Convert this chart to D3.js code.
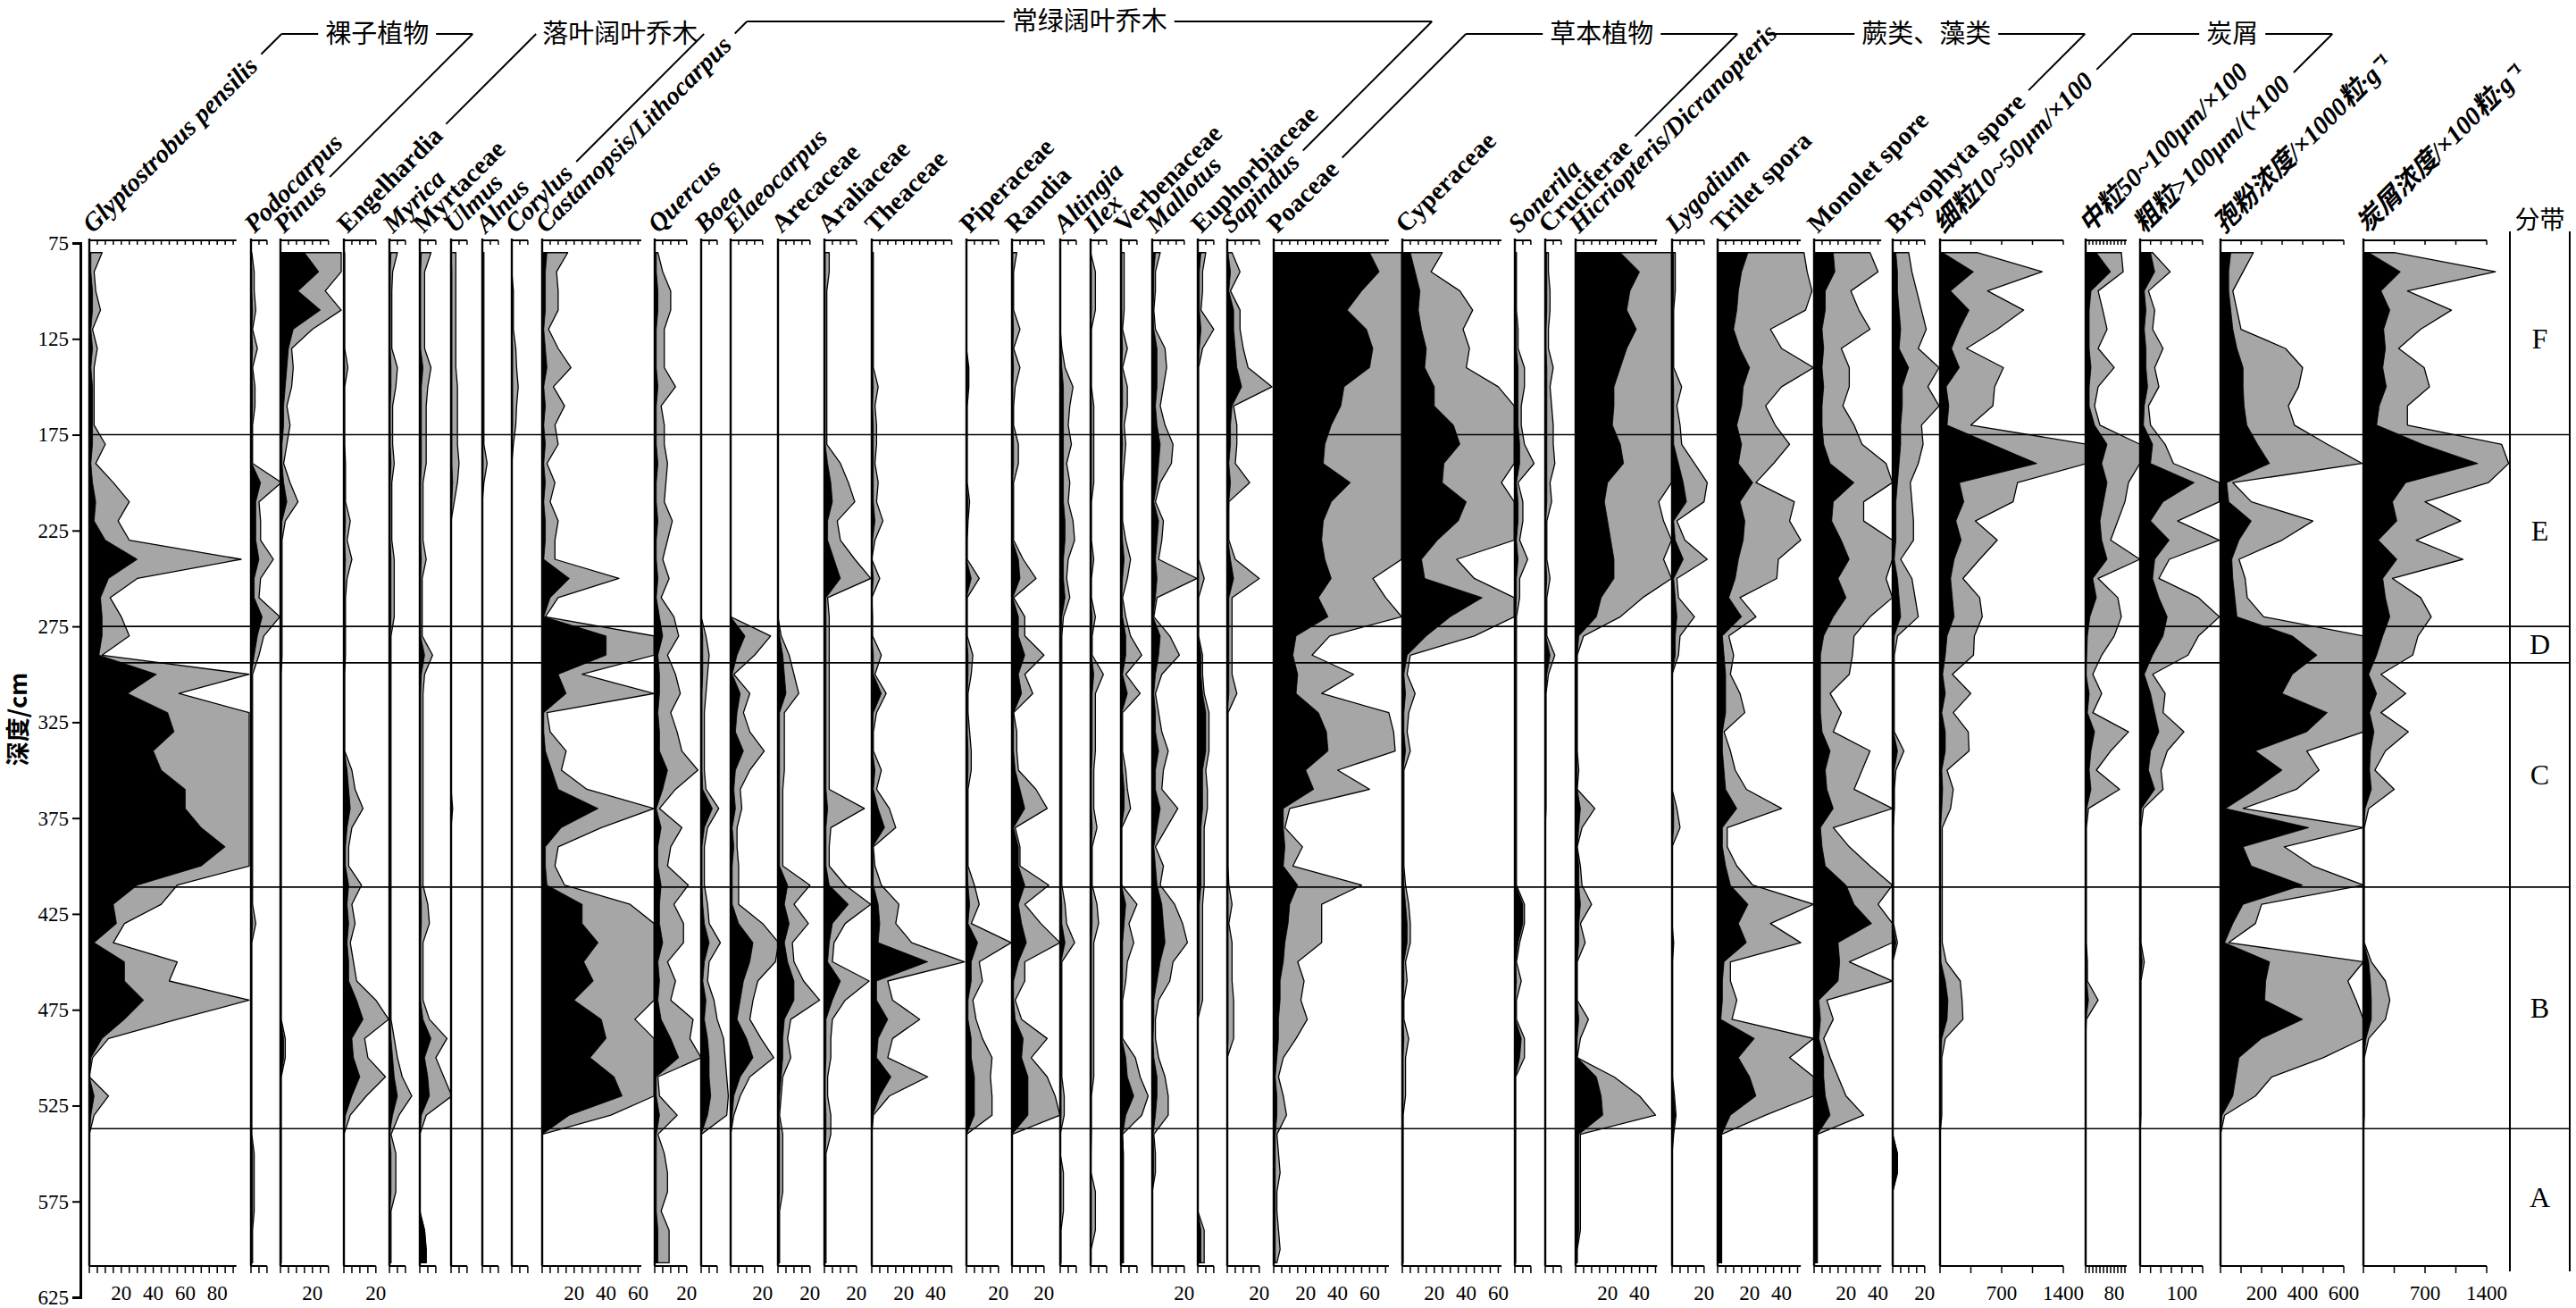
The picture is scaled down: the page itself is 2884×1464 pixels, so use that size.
<!DOCTYPE html>
<html>
<head>
<meta charset="utf-8">
<script src="https://cdn.jsdelivr.net/npm/d3@7"></script>
<style>
  body { margin: 0; background: #fff; }
  svg text { fill: #000; }
</style>
</head>
<body>
<div id="chart"></div>
<script>
// sample depths (cm)
const depths = [80,90,100,110,120,130,140,150,160,170,180,190,200,210,220,230,240,250,260,270,280,290,300,310,320,330,340,350,360,370,380,390,400,410,420,430,440,450,460,470,480,490,500,510,520,530,540,550,560,570,580,590,600,607];

// zone boundaries and names
const zoneBounds = [175, 275, 294, 411, 537];
const zoneNames = ["F", "E", "D", "C", "B", "A"];
const depthTicks = [75,125,175,225,275,325,375,425,475,525,575,625];

// percentages (black) and exaggerated curves (grey)
const glyptostrobus = [1,1,2,2,1,2,1,2,2,2, 2,1,2,4,3,10,30,12,7,8, 8,6,42,24,49,53,40,45,60,60, 70,85,70,30,15,17,3,22,22,34, 22,8,1,0,3,1,0,0,0,0, 0,0,0,0];
const glyptostrobusEx = [8,3,4,7,2,5,3,3,3,3, 10,4,15,25,18,25,95,30,13,20, 25,8,100,56,100,100,100,100,100,100, 100,100,100,55,45,22,15,55,50,100, 55,12,2,0,12,3,0,0,0,0, 0,0,0,0];
const podocarpus = [0,0.5,0.5,1,0.5,1,0.5,1,1,0.5, 0.5,0.5,6,3,3,3,5,2,2,7, 4,2,0.3,0.3,0.3,0.3,0.3,0.3,0.3,0.3, 0.3,0.3,0.3,0.3,0.3,1,0.2,0.2,0.2,0.2, 0.2,0.2,0.2,0.2,0.2,0.2,0.2,1,1,1, 1,0.5,0.5,0.5];
const podocarpusEx = [0.5,2,2,3,1,4,1,2.5,2.5,1, 1,1,19,5,6,6,14,6,5,18, 8,5,1,1,1,1,1,1,1,1, 1,1,1,1,1,3,0.5,0.5,0.5,0.5, 0.5,0.5,0.5,0.5,0.5,0.5,0.5,2,2,2, 2,1,1,1];
const pinus = [15,24,11,25,8,5,4,3,2,2, 1,1,2,4,1,0.5,0.5,0.5,0.5,0.5, 0.5,0.5,0.3,0.3,0.3,0.3,0.3,0.3,0.3,0.3, 0.3,0.3,0.3,0.3,0.3,0.3,0.3,0.3,0.3,0.3, 0.3,2,2,0.3,0.3,0.3,0.3,0.3,0.3,0.3, 0.3,0.3,0.3,0.3];
const pinusEx = [38,38,28,38,20,7,8,7,4,6, 4,2,6,11,3,1,1,1,1,1, 1,1,0.5,0.5,0.5,0.5,0.5,0.5,0.5,0.5, 0.5,0.5,0.5,0.5,0.5,0.5,0.5,0.5,0.5,0.5, 0.5,3,3,0.5,0.5,0.5,0.5,0.5,0.5,0.5, 0.5,0.5,0.5,0.5];
const engelhardia = [0,0,0,0,0,0,0.5,0,0,0, 0,0.5,0.5,0.5,1,0.5,1,0.5,0.5,0.5, 0.5,0.5,0.3,0.3,0.3,0.3,0.3,2,3,4, 2,1,1,3,2,3,2,3,3,8, 12,5,6,10,5,1,0,0,0,0, 0,0,0,0];
const engelhardiaEx = [0.5,0.5,0.5,0.5,0.5,0.5,2.5,0.5,0.5,0.5, 0.5,1,1,1,4,2,5,2,1,1, 1,1,0.5,0.5,0.5,0.5,0.5,5,7,12, 5,3,3,11,5,7,4,6,8,20, 28,13,15,26,14,4,0,0,0,0, 0,0,0,0];
const myrica = [1,0.5,0.5,0.5,0.5,0.5,1,1,0.5,0.5, 0.5,1,0.5,0.5,0.5,0.5,1,1,1,1, 0.5,0.5,0.5,0.5,0.5,0.5,0.5,0.5,0.5,0.5, 0.5,0.5,0.5,0.5,0.5,0.5,0.5,0.5,0.5,0.5, 0.5,1,2,3,5,2,0,1,1,1, 0.3,0.3,0.3,0.3];
const myricaEx = [5,2,1.5,1.5,1.5,1.5,5,4,2,2, 2,3,1.5,1.5,1.5,1.5,3,3,3,3, 1,1,1,1,1,1,1,1,1,1, 1,1,1,1,1,1,1,1,1,1, 1,3,5,8,14,6,1,4,4,4, 1,1,1,1];
const myrtaceae = [1,0.5,0.5,0.5,0.5,0.5,2,1,1,1, 1,1,0.5,0.5,0.5,0.5,1,0.5,0.5,0.5, 0.5,3,1,0.5,0.5,0.5,0.5,0.5,0.5,0.5, 0.5,0.5,0.5,0.5,1,1,0.5,0.5,0.5,0.5, 2,7,3,5,6,1,0,0,0,0, 0,3,4,4];
const myrtaceaeEx = [7,3,3,3,3,3,7,5,4,4, 4,4,2,2,2,2,4,1.5,1.5,1.5, 1.5,8,3,2,2,2,2,2,2,2, 2,2,2,2,5,6,2,2,2,2, 6,17,10,15,20,4,0,0,0,0, 0,3,4,4];
const ulmus = [0,0.5,0.5,0.5,0.5,0.5,0.5,0.5,0.5,0.5, 0.5,0.5,1,0.5,0,0,0,0,0,0, 0,0,0,0,0,0,0,0,0,0, 0,0,0,0,0,0,0,0,0,0, 0,0,0,0,0,0,0,0,0,0, 0,0,0,0];
const ulmusEx = [3,3,3,3,3,3,3,4,4,4, 4,5,4,2,0,0,0,0,0,0, 0,0,0,0,0,0,0,0,0,1, 0,0,0,0,0,0,0,0,0,0, 0,0,0,0,0,0,0,0,0,0, 0,0,0,0];
const alnus = [0.3,0.3,0.3,0.3,0.3,0.3,0.3,0.3,0.3,0.3, 0.3,0.5,0.3,0,0,0,0,0,0,0, 0,0,0,0,0,0,0,0,0,0, 0,0,0,0,0,0,0,0,0,0, 0,0,0,0,0,0,0,0,0,0, 0,0,0,0];
const alnusEx = [1,1,1,1,1,1,1,1,1,1, 1,3,1,0,0,0,0,0,0,0, 0,0,0,0,0,0,0,0,0,0, 0,0,0,0,0,0,0,0,0,0, 0,0,0,0,0,0,0,0,0,0, 0,0,0,0];
const corylus = [0,0,0,0,0,0.5,0.5,0.5,0.5,0.5, 0,0,0,0,0,0,0,0,0,0, 0,0,0,0,0,0,0,0,0,0, 0,0,0,0,0,0,0,0,0,0, 0,0,0,0,0,0,0,0,0,0, 0,0,0,0];
const corylusEx = [0,0,1,1,1,2.5,3,4,3,2.5, 1,0,0,0,0,0,0,0,0,0, 0,0,0,0,0,0,0,0,0,0, 0,0,0,0,0,0,0,0,0,0, 0,0,0,0,0,0,0,0,0,0, 0,0,0,0];
const castanopsis = [3,2,2,2,1,2,3,1,2,1, 2,1,2,1,2,2,1,17,5,1, 40,40,10,15,1,1,2,6,10,35, 12,2,2,3,25,25,35,26,32,20, 37,40,30,45,50,17,0,0,0,0, 0,0,0,0];
const castanopsisEx = [16,9,10,10,4,10,18,7,14,8, 10,3,8,5,10,8,8,48,10,2, 70,70,25,70,3,5,15,12,28,70, 37,10,8,14,55,70,70,70,70,70, 58,70,70,70,70,43,0,0,0,0, 0,0,0,0];
const quercus = [1,1,2,2,1,1,1,2,1,1, 1,2,1,1,2,1,1,2,1,3, 5,2,3,3,2,3,3,8,5,1, 4,2,2,4,3,3,5,2,3,2, 4,10,15,1,1,3,1,1,1,1, 1,2,2,2];
const quercusEx = [2,5,10,10,6,6,6,13,4,6, 6,8,7,6,11,8,5,9,4,12, 15,8,13,16,10,14,17,27,13,3, 17,10,8,21,12,18,18,8,13,10, 24,22,29,2,3,14,2,6,8,8, 4,9,9,9];
const boea = [0,0,0,0,0,0,0,0,0,0, 0,0,0,0,0,0,0,0,0,0, 1,1,1,0.5,0.5,0.5,0.5,0.5,1,7, 2,0.5,0.5,0.5,1,2,5,2,1,3, 2,4,5,5,6,4,0,0,0,0, 0,0,0,0];
const boeaEx = [0,0,0,0,0,0,0,0,0,0, 0,0,0,0,0,0,0,0,0,0, 3,5,4,3,2,2,2,2,3,11, 4,2,2,2,4,5,12,5,4,8, 10,14,15,16,17,16,0,0,0,0, 0,0,0,0];
const elaeocarpus = [0,0,0,0,0,0,0,0,0,0, 0,0,0,0,0,0,0,0,0,0, 9,4,1,6,4,3,8,3,2,3, 1,2,1,1,1,5,14,12,8,6, 4,10,14,6,2,1,0,0,0,0, 0,0,0,0];
const elaeocarpusEx = [0,0,0,0,0,0,0,0,0,0, 0,0,0,0,0,0,0,0,0,0, 25,15,2,12,8,12,21,12,6,7, 4,4,5,5,5,20,30,28,17,14, 12,19,27,12,6,2,0,0,0,0, 0,0,0,0];
const arecaceae = [0,0,0,0,0,0,0,0,0,0, 0,0,0,0,0,0,0,0,0,0, 1,3,4,5,1,1,1,1,1,1, 1,1,1,6,4,7,4,6,10,10, 4,3,3,2,1,0.5,1,1,1,1, 0.5,0.5,0.5,0.5];
const arecaceaeEx = [0,0,0,0,0,0,0,0,0,0, 0,0,0,0,0,0,0,0,0,0, 2,7,10,13,4,4,4,4,3,3, 3,3,3,20,10,19,9,10,16,26, 8,6,8,3,2,1,3,3,3,3, 1,1,1,1];
const araliaceae = [0.5,0.5,0.5,0.5,0.5,0.5,0.5,0.5,0.5,0.5, 0.5,2,4,5,2,2,6,10,1,1, 1,1,1,1,1,1,1,1,1,2, 1,1,1,3,15,5,3,2,10,5, 1,1,1,0.5,0.5,1,1,0.5,0.5,0.5, 0.5,0.5,0.5,0.5];
const araliaceaeEx = [3,3,1.5,1.5,1.5,1.5,1.5,1.5,1.5,1.5, 1.5,10,15,19,8,10,19,29,2,3, 3,3,3,3,3,3,3,3,3,25, 4,3,3,13,29,13,6,5,28,13, 5,4,4,2,2,4,4,1,1,1, 1,1,1,1];
const theaceae = [0.5,0.5,0.5,0.5,0.5,0.5,0.5,1,0.5,1, 1,1,1,1,2,0.5,0,1,0,0, 0,1,1,6,1,0.5,0.5,2,1,4, 8,0.5,1,1,4,5,4,35,3,3, 10,4,3,12,5,0.5,0,0,0,0, 0,0,0,0];
const theaceaeEx = [1,1,1,1,1,1,1,4,2,3, 3,2,4,3,7,2,0,5,0,0.5, 0.5,6,2,9,3,1,1,6,3,11, 15,1,2,6,17,15,25,58,10,13, 30,13,10,35,11,1,0,0,0,0, 0,0,0,0];
const piperaceae = [0,0,0,0,0,0,1,1,0,0, 0,0,0,1,0.5,0,0,3,0,0, 0,1,1,0.5,0.5,0.5,1,1,0.5,0.5, 0.5,0.5,0.5,1,2,1,7,3,3,1, 1,3,3,5,5,5,0,0,0,0, 0,0,0,0];
const piperaceaeEx = [0,0,0,0,0,0,1.5,1.5,0.5,0.5, 0.5,0.5,0.5,2,1,0.5,0.5,8,0.5,0.5, 0.5,4,3,1,1,2,3,3,1,1, 1,1,1,5,8,3,28,8,10,4, 6,10,16,15,16,16,0,0,0,0, 0,0,0,0];
const randia = [0.5,0.5,0.5,0.5,1,0.5,1,0.5,0.5,0.5, 1,1,0.3,0.3,0.3,0.3,4,5,0.5,4, 4,8,4,6,1,1,1,2,5,8, 1,4,4,8,4,6,9,4,1,1, 2,7,6,10,10,10,0,0,0,0, 0,0,0,0];
const randiaEx = [3,1,1,1,5,1,5,2,1,1, 4,4,1,1,1,1,7,15,1,8, 8,20,8,13,1,3,3,4,15,22, 2,5,5,23,8,18,30,8,8,2, 6,22,12,22,27,30,0,0,0,0, 0,0,0,0];
const altingia = [0,0,0,0,0,0.5,1,2,2,2, 2,2,2,2,3,3,2,2,3,1, 0.5,0.3,0.3,0.3,0.3,0.3,0.3,0.3,0.3,0.3, 0.3,0.3,0.3,0.3,1,1,3,0.5,0.5,0.5, 0.5,0.5,0.5,0.5,0.5,0.5,0,0,0.5,0.5, 0.5,0,0,0];
const altingiaEx = [0,0,0,0,0,1,3,8,6,5, 7,4,6,5,8,9,5,4,6,2, 1,1,1,1,1,1,1,1,1,1, 1,1,1,1,3,4,9,1,1,1, 1,1,1,1,2.5,2.5,0,0,2,2, 2,0.5,0.5,0.5];
const ilex = [0,0.5,0.5,0.5,0,0,0,0,0.5,0.5, 0.5,0.5,0.5,0,0,0,0.5,0,0,1, 0.5,0.5,2,1,1,1,1,0.5,0.5,0.5, 1,0.5,0.5,0.5,1,1,0.5,0.5,0.5,0.5, 0.5,0.5,0.5,0.5,0,0,0,0,0,0.5, 0.5,0.5,0,0];
const ilexEx = [0,3,3,3,0.5,0.5,0.5,0.5,2,2, 2,2,2,0.5,0.5,0.5,2,0.5,0.5,3, 1,1,8,3,3,3,3,2,2,2, 4,1,1,1,4,5,2,2,2,2, 2,2,2,2,0.5,0.5,0.5,0.3,0.3,3, 3,3,0.3,0.3];
const verbenaceae = [0.5,0.5,0.5,0.5,0.5,1,0.5,1,1,0.5, 1,0.5,0.5,0.5,0.5,1,2,1,0.5,1, 3,3,1,4,0.5,0.5,0.5,1,2,2, 0.3,0.3,0.3,0.3,3,2,1,1,1,0.5, 0.5,0.5,3,4,8,3,1,1.5,1.5,1.5, 1.5,1.5,1.5,1.5];
const verbenaceaeEx = [2,2,2,2,1,4,1,4,4,2, 3,2,1,1,1,3,6,4,1,3, 6,13,3,12,1,1,1,3,4,6, 0.5,0.5,0.5,0.5,10,5,8,4,3,1, 1,1,9,12,17,13,1,1.5,1.5,1.5, 1.5,1.5,1.5,1.5];
const mallotus = [2,1,1,0.5,1,3,3,3,2,3, 5,4,3,1,4,3,2,3,2,0.5, 5,4,2,1,2,2,4,2,2,5, 3,1,2,3,6,7,8,5,3,1, 1,0.5,1,3,3,2,0.5,1,1,0, 0,0,0,0];
const mallotusEx = [5,2,2,1,2,8,9,7,5,8, 13,12,5,2,7,6,4,28,3,1, 11,17,6,2,4,6,10,7,6,16, 9,2,7,5,14,19,22,13,11,4, 2,2,4,8,10,10,1,2,2,0, 0,0,0,0];
const euphorbiaceae = [2,1,1,1,2,1,0.3,0.3,0.3,0.3, 0.3,0.3,0.3,0.3,0.3,0.3,0.3,0.5,0.3,0.3, 0.3,2,2,3,5,5,5,3,3,3, 2,2,2,2,1,1,1,1,1,1, 0,0,0,0,0,0,0,0,0,0, 0,2,2,2];
const euphorbiaceaeEx = [5,3,3,2,10,3,0.5,0.5,0.5,0.5, 0.5,0.5,0.5,0.5,0.5,0.5,0.5,4,0.5,0.5, 0.5,3,3,4,7,7,7,5,6,6, 4,4,4,4,3,3,3,3,3,3, 0,0,0,0,0,0,0,0,0,0, 0,4,4,4];
const sapindus = [0.5,2,1,4,4,5,6,9,3,2, 2,1,2,1,0.5,0.5,2,4,1,1, 1,1,1,1,0,0,0,0,0,0, 0,0,0,0.5,0.5,0.5,0.5,0.5,0.5,0.5, 0.5,0.5,0,0,0,0,0,0,0,0, 0,0,0,0];
const sapindusEx = [3,8,2,8,8,10,13,28,4,6, 6,5,14,1,1,1,5,20,3,3, 3,3,3,6,0.5,0.5,0.5,0.5,0.5,0.5, 0.5,0.5,0.5,1,3,1,3,3,3,4, 4,4,0,0,0,0,0,0,0,0, 0,0,0,0];
const poaceae = [60,66,55,46,58,62,60,44,42,36, 32,31,48,36,31,30,32,36,28,34, 14,12,15,14,28,33,34,20,25,6, 6,7,6,15,10,9,7,6,4,4, 3,3,2,1,2,2,1,1,1,1, 1,1,1,1];
const poaceaeEx = [80,80,80,80,80,80,80,80,80,80, 80,80,80,80,80,80,80,62,70,80, 35,24,50,30,72,75,76,40,60,10, 7,18,12,55,30,30,30,15,19,17, 21,14,6,3,6,8,2,3,4,2, 2,3,4,2];
const cyperaceae = [5,8,11,10,12,15,14,20,20,32, 36,26,25,40,35,22,12,14,50,30, 15,3,1,2,1,1,2,0.5,0.5,0.5, 0.5,0.5,0.5,1,2,3,3,1,1,0.5, 0.5,1,0.5,0.5,0.5,0.3,0.3,0.3,0.3,0.3, 0.3,0.3,0.3,0.3];
const cyperaceaeEx = [25,18,36,44,38,42,40,60,70,70, 70,70,62,70,70,70,34,45,70,70, 45,5,3,8,4,3,5,1,1,1, 1,1,1,2,4,5,5,2,3,1, 1,4,2,2,2,0.5,0.5,0.5,0.5,0.5, 0.5,0.5,0.5,0.5];
const sonerila = [0.5,0.5,0.5,0.5,1,1,2,2,2,2, 3,3,1,2,2,1,2,1,1,0.5, 0.3,0.3,0.3,0.3,0.3,0.3,0.3,0.3,0.3,0.3, 0.3,0.3,0.3,0.5,5,5,2,0.5,1,0.3, 0.3,4,3,0.3,0.3,0.3,0.3,0.3,0.3,0.3, 0.3,0.3,0.3,0.3];
const sonerilaEx = [1,1,1,1,2,2,6,6,4,4, 6,12,2,5,5,3,8,3,3,1, 1,1,1,1,1,1,1,1,1,1, 1,1,1,1,6,6,3,1,4,1, 1,6,6,0.5,0.5,0.5,0.5,0.5,0.5,0.5, 0.5,0.5,0.5,0.5];
const cruciferae = [1,1,1,1,0.5,0.5,1,1,1,1, 1,1,1,1,0.3,0.3,0.3,1,0.3,0.3, 0.3,3,1,0.3,0.3,0.3,0.3,0.3,0.3,0.3, 0,0,0,0,0,0,0,0,0,0, 0,0,0,0,0,0,0,0,0,0, 0,0,0,0];
const cruciferaeEx = [2,2,3,3,2,2,5,3,4,5, 5,6,3,4,1,1,1,3,1,1, 1,6,2,0.5,0.5,0.5,0.5,0.5,0.5,0.5, 0,0,0,0,0,0,0,0,0,0, 0,0,0,0,0,0,0,0,0,0, 0,0,0,0];
const hicriopteris = [28,40,34,32,38,32,28,24,24,23, 28,30,20,18,20,22,24,24,16,13, 2,1,1,1,1,1,1,1,1,3, 2,1,2,2,3,2,2,1,1,1, 2,1,1,13,16,17,2,2,2,2, 2,2,1,1];
const hicriopterisEx = [60,60,60,60,60,60,60,60,60,60, 60,60,60,52,55,60,55,60,42,28, 5,1,1,1,1,1,1,2,1,12, 4,1,3,4,10,3,6,1,1,1, 8,3,1,24,40,50,3,3,3,3, 3,3,1,1];
const lygodium = [1,1,1,0.5,0.5,0.5,0.5,1,1,1, 1,4,7,9,1,2,7,1,2,3, 2,2,0,0,0,0,0,0,0,1, 1,0,0,0,0,0,0.5,0,0,0, 0,0,0,0,1,2,0.5,0,0,0, 0,0,0,0];
const lygodiumEx = [2,2,2,1,1,1,1,6,3,5, 6,14,22,20,3,8,22,3,4,14, 5,4,0,0,0,0,0,0,0,3, 5,0,0,0,0,0,1,0.3,0.3,0.3, 0.3,0.3,0.3,0.3,1.5,2.5,1,0,0,0, 0,0,0,0];
const trilet = [19,15,13,12,10,14,20,16,15,12, 15,13,22,14,17,16,13,11,7,15, 3,4,5,5,5,3,3,4,5,12, 3,3,5,8,19,13,18,4,3,3, 2,23,13,20,24,8,2.5,2.5,2.5,2.5, 2.5,2.5,2.5,2.5];
const triletEx = [54,56,59,55,33,40,60,40,30,36, 45,35,24,48,45,52,38,37,14,24, 7,10,8,14,17,4,8,11,18,40, 6,6,12,22,60,33,52,8,8,12, 9,60,45,60,60,30,2.5,2.5,2.5,2.5, 2.5,2.5,2.5,2.5];
const monolet = [12,13,7,7,5,6,5,6,5,5, 6,10,25,12,11,17,22,15,20,12, 6,4,4,4,4,5,10,7,8,12, 4,5,7,20,25,36,15,16,15,3, 4,3,6,6,7,10,2,2,2,2, 2,2,2,2];
const monoletEx = [35,40,23,28,35,17,22,22,18,25, 30,45,49,31,31,49,49,45,49,35, 25,24,22,10,17,12,35,30,25,49, 12,22,35,49,40,49,49,22,49,8, 12,6,10,15,20,31,2,2,2,2, 2,2,2,2];
const bryophyta = [2,3,3,4,5,4,10,6,6,5, 5,4,3,2,2,2,1,3,4,5, 1,0.5,0.5,0.5,0.5,0.5,3,1,1,1, 0,0,0,0,0,0,2,0,0,0, 0,0,0,0,0,0,0,3,3,0, 0,0,0,0];
const bryophytaEx = [10,12,15,18,21,16,29,22,29,18, 19,16,11,12,13,13,5,12,14,16, 3,1,1,1,1,1,7,2,1,1, 0.5,0.5,0.5,0.5,0.5,0.5,3,0,0,0, 0,0,0,0,0,0,0,3,3,0, 0,0,0,0];
// charcoal particles (x100) and concentrations
const fineChar = [30,380,120,330,220,130,220,70,100,80, 590,1100,220,270,180,240,160,120,140,160, 80,60,30,60,20,60,60,20,30,20, 5,5,5,5,5,5,5,10,60,90, 80,20,10,10,10,10,0,0,0,0, 0,0,0,0];
const fineCharEx = [420,1160,540,950,650,300,720,620,600,350, 1670,1670,880,830,400,650,450,260,450,480, 390,380,140,350,150,320,330,80,150,120, 25,25,25,25,25,25,25,70,230,250, 260,60,20,20,20,20,0,0,0,0, 0,0,0,0];
const midChar = [30,70,15,10,10,10,15,10,10,25, 60,45,60,50,40,45,60,20,30,12, 5,3,1,10,5,25,15,10,15,3, 1,1,1,1,1,1,1,3,3,8, 1,0,0,0,0,0,0,0,0,0, 0,0,0,0];
const midCharEx = [100,105,35,48,60,35,80,35,25,40, 152,152,120,110,90,70,152,35,90,100, 80,45,20,45,20,120,70,30,95,8, 2,2,2,2,2,2,2,5,5,35, 2,0,0,0,0,0,0,0,0,0, 0,0,0,0];
const coarseChar = [25,35,10,14,10,14,14,18,10,8, 30,25,130,55,25,70,35,30,45,65, 55,30,10,25,35,45,25,20,35,3, 1,1,1,1,1,1,1,5,1,1, 1,1,1,1,1,1,0,0,0,0, 0,0,0,0];
const coarseCharEx = [30,72,20,35,30,55,35,45,20,25, 60,80,190,190,90,190,70,45,140,190, 140,115,30,60,55,105,65,50,55,8, 2,2,2,2,2,2,2,10,2,2, 2,2,2,2,2,2,0,0,0,0, 0,0,0,0];
const pollenConc = [50,40,40,50,60,80,110,110,115,128, 180,239,30,40,150,90,55,60,70,80, 350,470,350,300,520,420,170,300,170,25, 430,110,150,400,110,60,20,239,220,215, 400,200,90,75,60,8,0,0,0,0, 0,0,0,0];
const pollenConcEx = [160,110,60,80,100,316,400,380,330,360, 520,690,60,150,450,300,90,120,130,210, 696,696,696,696,696,696,420,480,370,110, 696,310,450,696,200,170,40,696,620,660, 696,696,500,250,170,20,0,0,0,0, 0,0,0,0];
const charConc = [60,420,200,300,230,250,220,260,180,150, 670,1300,480,330,380,170,380,220,250,300, 220,150,60,150,70,120,80,70,90,20, 5,5,5,5,5,5,5,60,80,90, 90,30,5,5,5,5,0,0,0,0, 0,0,0,0];
const charConcEx = [350,1500,500,1000,650,400,690,750,500,500, 1570,1650,1420,700,1105,600,1130,330,650,770, 620,560,200,480,200,510,250,130,350,60, 10,10,10,10,10,10,10,90,250,300, 250,60,10,10,10,10,0,0,0,0, 0,0,0,0];

// ---- layout ----
const W = 2884, H = 1464;
const axisTop = 269, axisBottom = 1417;
const pct = 1.79; // px per percent
const zoneLeft = 2810, zoneRight = 2877;

const panels = [
  {name: "Glyptostrobus pensilis", it: true, x: 100, max: 92, b: glyptostrobus, g: glyptostrobusEx},
  {name: "Podocarpus", it: true, x: 281, max: 10, b: podocarpus, g: podocarpusEx},
  {name: "Pinus", it: true, x: 314, max: 30, b: pinus, g: pinusEx},
  {name: "Engelhardia", it: false, x: 385, max: 20, b: engelhardia, g: engelhardiaEx},
  {name: "Myrica", it: true, x: 436, max: 10, b: myrica, g: myricaEx},
  {name: "Myrtaceae", it: false, x: 470, max: 10, b: myrtaceae, g: myrtaceaeEx},
  {name: "Ulmus", it: true, x: 505, max: 10, b: ulmus, g: ulmusEx},
  {name: "Alnus", it: true, x: 540, max: 10, b: alnus, g: alnusEx},
  {name: "Corylus", it: true, x: 573, max: 10, b: corylus, g: corylusEx},
  {name: "Castanopsis/Lithocarpus", it: true, x: 607, max: 62, b: castanopsis, g: castanopsisEx},
  {name: "Quercus", it: true, x: 733, max: 20, b: quercus, g: quercusEx},
  {name: "Boea", it: true, x: 785, max: 10, b: boea, g: boeaEx},
  {name: "Elaeocarpus", it: true, x: 818, max: 20, b: elaeocarpus, g: elaeocarpusEx},
  {name: "Arecaceae", it: false, x: 871, max: 20, b: arecaceae, g: arecaceaeEx},
  {name: "Araliaceae", it: false, x: 923, max: 20, b: araliaceae, g: araliaceaeEx},
  {name: "Theaceae", it: false, x: 976, max: 50, b: theaceae, g: theaceaeEx},
  {name: "Piperaceae", it: false, x: 1082, max: 20, b: piperaceae, g: piperaceaeEx},
  {name: "Randia", it: false, x: 1133, max: 20, b: randia, g: randiaEx},
  {name: "Altingia", it: true, x: 1187, max: 10, b: altingia, g: altingiaEx},
  {name: "Ilex", it: true, x: 1221, max: 10, b: ilex, g: ilexEx},
  {name: "Verbenaceae", it: false, x: 1255, max: 10, b: verbenaceae, g: verbenaceaeEx},
  {name: "Mallotus", it: true, x: 1290, max: 20, b: mallotus, g: mallotusEx},
  {name: "Euphorbiaceae", it: false, x: 1341, max: 10, b: euphorbiaceae, g: euphorbiaceaeEx},
  {name: "Sapindus", it: true, x: 1374, max: 20, b: sapindus, g: sapindusEx},
  {name: "Poaceae", it: false, x: 1426, max: 72, b: poaceae, g: poaceaeEx},
  {name: "Cyperaceae", it: false, x: 1570, max: 62, b: cyperaceae, g: cyperaceaeEx},
  {name: "Sonerila", it: true, x: 1696, max: 10, b: sonerila, g: sonerilaEx},
  {name: "Cruciferae", it: false, x: 1730, max: 10, b: cruciferae, g: cruciferaeEx},
  {name: "Hicriopteris/Dicranopteris", it: true, x: 1764, max: 51, b: hicriopteris, g: hicriopterisEx},
  {name: "Lygodium", it: true, x: 1872, max: 20, b: lygodium, g: lygodiumEx},
  {name: "Trilet spora", it: false, x: 1923, max: 52, b: trilet, g: triletEx},
  {name: "Monolet spore", it: false, x: 2031, max: 42, b: monolet, g: monoletEx},
  {name: "Bryophyta spore", it: false, x: 2119, max: 20, b: bryophyta, g: bryophytaEx},
  {name: "细粒10~50μm/×100", it: true, x: 2172, max: 1400, w: 138, ticks: [0,350,700,1050,1400], lab: [700,1400], b: fineChar, g: fineCharEx},
  {name: "中粒50~100μm/×100", it: true, x: 2335, max: 115, w: 46, ticks: d3.range(0, 116, 10), lab: [80], b: midChar, g: midCharEx},
  {name: "粗粒>100μm/(×100", it: true, x: 2396, max: 150, w: 70, ticks: d3.range(0, 151, 25), lab: [100], b: coarseChar, g: coarseCharEx},
  {name: "孢粉浓度/×1000粒·g⁻¹", it: true, x: 2486, max: 600, w: 138, ticks: d3.range(0, 601, 100), lab: [200,400,600], b: pollenConc, g: pollenConcEx},
  {name: "炭屑浓度/×100粒·g⁻¹", it: true, x: 2646, max: 1400, w: 138, ticks: [0,350,700,1050,1400], lab: [700,1400], b: charConc, g: charConcEx}
];

const groups = [
  {name: "裸子植物", first: 0, last: 2, y: 38},
  {name: "落叶阔叶乔木", first: 3, last: 8, y: 38},
  {name: "常绿阔叶乔木", first: 9, last: 23, y: 24},
  {name: "草本植物", first: 24, last: 27, y: 38},
  {name: "蕨类、藻类", first: 28, last: 32, y: 38},
  {name: "炭屑", first: 33, last: 35, y: 38}
];

const serif = "'Liberation Serif', 'Times New Roman', 'Noto Sans CJK SC', serif";
const cjk = "'Noto Sans CJK SC', sans-serif";

const svg = d3.select("#chart").append("svg")
  .attr("width", W).attr("height", H)
  .attr("viewBox", `0 0 ${W} ${H}`);
svg.append("rect").attr("width", W).attr("height", H).attr("fill", "#fff");

const y = d3.scaleLinear().domain([75, 625]).range([272, 1452]);

const defs = svg.append("defs");

panels.forEach((p, i) => {
  const w = p.w || p.max * pct;
  const next = i < panels.length - 1 ? panels[i + 1].x : zoneLeft;
  const x = d3.scaleLinear().domain([0, p.max]).range([p.x, p.x + w]);
  const ticks = p.ticks || d3.range(0, p.max + 0.01, 5);
  const labs = p.lab || d3.range(20, p.max + 0.01, 20);

  defs.append("clipPath").attr("id", `clip${i}`)
    .append("rect")
    .attr("x", p.x).attr("y", axisTop)
    .attr("width", next - p.x - 1).attr("height", axisBottom - axisTop);

  const g = svg.append("g");
  const body = g.append("g").attr("clip-path", `url(#clip${i})`);

  const grey = depths.map((d, k) => ({d, v: p.g[k] || 0}));
  const black = depths.map((d, k) => ({d, v: p.b[k] || 0}));
  const area = d3.area()
    .y(d => y(d.d))
    .x0(p.x)
    .x1(d => x(d.v));

  body.append("path")
    .datum(grey)
    .attr("d", area)
    .attr("fill", "#a6a6a6")
    .attr("stroke", "#000")
    .attr("stroke-width", 1.3)
    .attr("stroke-linejoin", "round");
  body.append("path")
    .datum(black)
    .attr("d", area)
    .attr("fill", "#000")
    .attr("stroke", "#000")
    .attr("stroke-width", 0.8);

  // panel axis
  g.append("line")
    .attr("x1", p.x).attr("x2", p.x)
    .attr("y1", axisTop - 2).attr("y2", axisBottom)
    .attr("stroke", "#000").attr("stroke-width", 2.4);

  [axisTop, axisBottom].forEach(ay => {
    g.append("line")
      .attr("x1", p.x).attr("x2", p.x + w)
      .attr("y1", ay).attr("y2", ay)
      .attr("stroke", "#000").attr("stroke-width", 2);
    g.selectAll(null).data(ticks).enter().append("line")
      .attr("x1", d => x(d)).attr("x2", d => x(d))
      .attr("y1", ay).attr("y2", ay + (ay === axisTop ? 5 : 8))
      .attr("stroke", "#000").attr("stroke-width", 1.5);
  });

  g.selectAll(null).data(labs).enter().append("text")
    .attr("x", d => x(d)).attr("y", axisBottom + 38)
    .attr("text-anchor", "middle")
    .attr("font-family", serif).attr("font-size", 23)
    .text(d => d);

  // taxon label
  p.label = g.append("text")
    .attr("transform", `translate(${p.x + 4},262) rotate(-45)`)
    .attr("font-family", serif)
    .attr("font-size", 29)
    .attr("font-weight", "bold")
    .attr("font-style", p.it ? "italic" : "normal")
    .text(p.name);
});

// zone boundaries
svg.selectAll(null).data(zoneBounds).enter().append("line")
  .attr("x1", 100).attr("x2", zoneRight)
  .attr("y1", d => y(d)).attr("y2", d => y(d))
  .attr("stroke", "#000").attr("stroke-width", 1.6);

// zone column
[zoneLeft, zoneRight].forEach(zx => {
  svg.append("line")
    .attr("x1", zx).attr("x2", zx)
    .attr("y1", 259).attr("y2", axisBottom + 6)
    .attr("stroke", "#000").attr("stroke-width", 2);
});
svg.append("text")
  .attr("x", (zoneLeft + zoneRight) / 2).attr("y", 256)
  .attr("text-anchor", "middle")
  .attr("font-family", cjk).attr("font-size", 28)
  .text("分带");
const zoneEdges = [75].concat(zoneBounds, [609]);
svg.selectAll(null).data(zoneNames).enter().append("text")
  .attr("x", (zoneLeft + zoneRight) / 2)
  .attr("y", (d, i) => y((zoneEdges[i] + zoneEdges[i + 1]) / 2) + 11)
  .attr("text-anchor", "middle")
  .attr("font-family", serif).attr("font-size", 32)
  .text(d => d);

// depth axis
const depthAxis = svg.append("g")
  .attr("transform", "translate(90,0)")
  .call(d3.axisLeft(y).tickValues(depthTicks).tickSize(9).tickPadding(4));
depthAxis.select(".domain").attr("stroke-width", 3);
depthAxis.selectAll(".tick line").attr("stroke-width", 2);
depthAxis.selectAll("text")
  .attr("font-family", serif).attr("font-size", 23);

svg.append("text")
  .attr("transform", `translate(30,805) rotate(-90)`)
  .attr("text-anchor", "middle")
  .attr("font-family", cjk).attr("font-size", 27).attr("font-weight", "bold")
  .text("深度/cm");

// group brackets
const c = Math.SQRT1_2;
groups.forEach(gr => {
  const pts = [gr.first, gr.last].map(idx => {
    const p = panels[idx];
    const L = p.label.node().getComputedTextLength();
    const ox = p.x - 2.4, oy = 255.6;
    const start = [ox + (L + 12) * c, oy - (L + 12) * c];
    const corner = [ox + (oy - gr.y), gr.y];
    return {start, corner};
  });
  const cx = (pts[0].corner[0] + pts[1].corner[0]) / 2;
  const t = svg.append("text")
    .attr("x", cx).attr("y", gr.y)
    .attr("dy", "0.35em")
    .attr("text-anchor", "middle")
    .attr("font-family", cjk).attr("font-size", 29)
    .text(gr.name);
  const tw = t.node().getComputedTextLength();
  const segs = [];
  pts.forEach((pt, k) => {
    if (pt.start[1] > gr.y) segs.push([pt.start, pt.corner]);
    const edge = k === 0 ? cx - tw / 2 - 8 : cx + tw / 2 + 8;
    if ((k === 0 && pt.corner[0] < edge) || (k === 1 && pt.corner[0] > edge)) {
      segs.push([pt.corner, [edge, gr.y]]);
    }
  });
  svg.selectAll(null).data(segs).enter().append("line")
    .attr("x1", d => d[0][0]).attr("y1", d => d[0][1])
    .attr("x2", d => d[1][0]).attr("y2", d => d[1][1])
    .attr("stroke", "#000").attr("stroke-width", 2);
});
</script>
</body>
</html>
